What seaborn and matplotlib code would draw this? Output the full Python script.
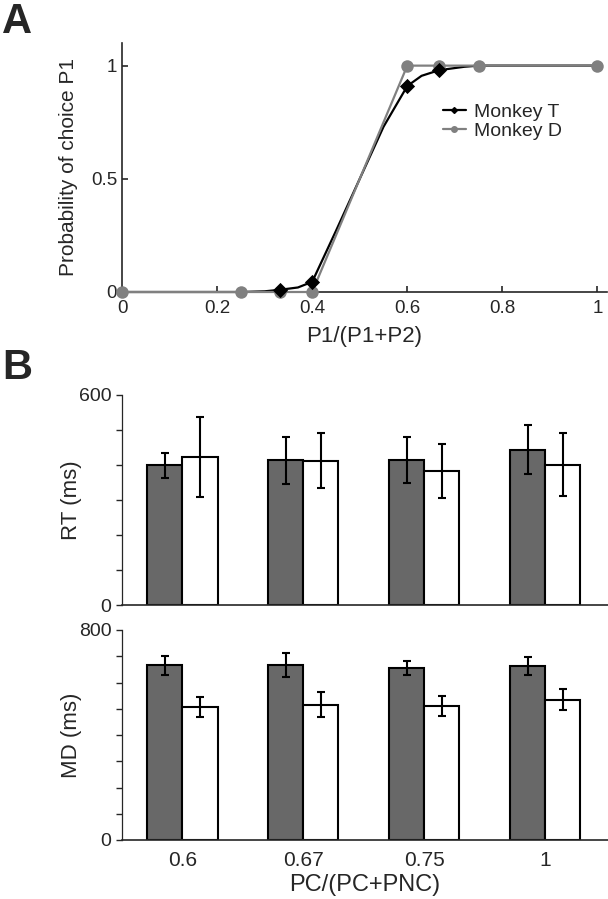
import numpy as np
import pandas as pd
import matplotlib
matplotlib.use("Agg")
import matplotlib.pyplot as plt
from matplotlib.lines import Line2D
import seaborn as sns

sns.set_style("ticks")
plt.rcParams['font.family'] = ['Liberation Sans', 'DejaVu Sans']

# panel A: choice curves
ratio = [0, 0.25, 0.333, 0.4, 0.6, 0.667, 0.75, 1.0]
p_choice_T = [0, 0, 0.01, 0.045, 0.91, 0.98, 1.0, 1.0]
p_choice_D = [0, 0, 0, 0, 1.0, 1.0, 1.0, 1.0]
# fitted curve for monkey T
fit_x_T = [0, 0.25, 0.3, 0.333, 0.37, 0.4, 0.45, 0.5, 0.55, 0.6, 0.63, 0.667, 0.72, 0.75, 1.0]
fit_y_T = [0, 0, 0.003, 0.01, 0.02, 0.045, 0.27, 0.5, 0.73, 0.91, 0.955, 0.98, 0.995, 1.0, 1.0]

# panel B: RT and MD bars
conditions = ['0.6', '0.67', '0.75', '1']
trial_types = ['PC', 'PNC']
rt_pc = [399, 413, 415, 444]
rt_pc_err = [36, 67, 66, 69]
rt_pnc = [423, 412, 384, 401]
rt_pnc_err = [115, 79, 77, 90]
md_pc = [665, 668, 655, 663]
md_pc_err = [37, 46, 26, 34]
md_pnc = [507, 516, 510, 535]
md_pnc_err = [38, 46, 37, 40]

W, H = 608, 899
fig = plt.figure(figsize=(W / 100, H / 100), dpi=100)

# ---------- A ----------
ax_a = fig.add_axes([122 / W, 1 - 292 / H, 485 / W, 249 / H])
sns.lineplot(x=fit_x_T, y=fit_y_T, color='black', linewidth=1.6, ax=ax_a, zorder=2)
sns.lineplot(x=ratio, y=p_choice_D, color='#808080', linewidth=1.6, marker='o',
             markersize=9, markeredgewidth=0, ax=ax_a, zorder=3)
sns.scatterplot(x=ratio[2:6], y=p_choice_T[2:6], color='black', marker='D', s=60,
                linewidth=0, ax=ax_a, zorder=4)
for art in ax_a.lines + ax_a.collections:
    art.set_clip_on(False)

ax_a.set_xlim(0, 1.02)
ax_a.set_ylim(0, 1.1)
ax_a.set_xticks([0, 0.2, 0.4, 0.6, 0.8, 1])
ax_a.set_xticklabels(['0', '0.2', '0.4', '0.6', '0.8', '1'])
ax_a.set_yticks([0, 0.5, 1])
ax_a.set_yticklabels(['0', '0.5', '1'])
ax_a.tick_params(direction='in', length=4, width=1.2, labelsize=13.5)
ax_a.tick_params(axis='x', pad=6)
ax_a.set_xlabel('P1/(P1+P2)', fontsize=16, labelpad=6)
ax_a.set_ylabel('Probability of choice P1', fontsize=15)
ax_a.yaxis.set_label_coords(-0.09, 0.5)
sns.despine(ax=ax_a)
for s in ['left', 'bottom']:
    ax_a.spines[s].set_linewidth(1.2)

handles = [Line2D([], [], color='black', marker='D', markersize=3, linewidth=1.6),
           Line2D([], [], color='#808080', marker='o', markersize=4, linewidth=1.6)]
ax_a.legend(handles, ['Monkey T', 'Monkey D'], loc='upper left', bbox_to_anchor=(0.645, 0.79),
            frameon=False, fontsize=14, handlelength=1.2, handletextpad=0.4,
            labelspacing=0.1, borderaxespad=0)


def bar_panel(ax, pc, pnc, pc_err, pnc_err, ymax, ylabel):
    df = pd.DataFrame({'ratio': conditions * 2,
                       'trial': [trial_types[0]] * 4 + [trial_types[1]] * 4,
                       'ms': pc + pnc})
    sns.barplot(data=df, x='ratio', y='ms', hue='trial', order=conditions,
                hue_order=trial_types, palette=['#686868', 'white'], saturation=1,
                width=0.58, edgecolor='black', linewidth=1.5, errorbar=None,
                legend=False, ax=ax)
    means = {(c, t): v for c, t, v in zip(df['ratio'], df['trial'], df['ms'])}
    errs = dict(zip(zip(df['ratio'], df['trial']), pc_err + pnc_err))
    bars = sorted(ax.patches, key=lambda p: p.get_x())
    keys = [(c, t) for c in conditions for t in trial_types]
    for patch, k in zip(bars, keys):
        ax.errorbar(patch.get_x() + patch.get_width() / 2, means[k], yerr=errs[k],
                    color='black', elinewidth=1.5, capsize=3, capthick=1.5, zorder=5)
    ax.set_xlim(-0.5, 3.52)
    ax.set_ylim(0, ymax)
    ax.set_yticks(np.arange(0, ymax + 1, 100))
    ax.set_yticklabels(['0'] + [''] * (ymax // 100 - 1) + [str(ymax)])
    ax.tick_params(axis='y', direction='out', length=4, width=1.0, labelsize=14)
    ax.tick_params(axis='x', length=0, labelsize=15, pad=8)
    ax.set_ylabel(ylabel, fontsize=16)
    ax.yaxis.set_label_coords(-0.082, 0.5)
    sns.despine(ax=ax)
    for s in ['left', 'bottom']:
        ax.spines[s].set_linewidth(1.2)
    ax.spines['left'].set_linewidth(0.9)


# ---------- B top ----------
ax_rt = fig.add_axes([122 / W, 1 - 605 / H, 486 / W, 210 / H])
bar_panel(ax_rt, rt_pc, rt_pnc, rt_pc_err, rt_pnc_err, 600, 'RT (ms)')
ax_rt.set_xticklabels([])
ax_rt.set_xlabel('')

# ---------- B bottom ----------
ax_md = fig.add_axes([122 / W, 1 - 840 / H, 486 / W, 210 / H])
bar_panel(ax_md, md_pc, md_pnc, md_pc_err, md_pnc_err, 800, 'MD (ms)')
ax_md.set_xlabel('PC/(PC+PNC)', fontsize=17, labelpad=3)

fig.text(0.003, 0.998, 'A', fontsize=30, fontweight='bold', va='top', ha='left')
fig.text(0.003, 0.613, 'B', fontsize=30, fontweight='bold', va='top', ha='left')

fig.savefig('out.png', dpi=100, facecolor='white')
